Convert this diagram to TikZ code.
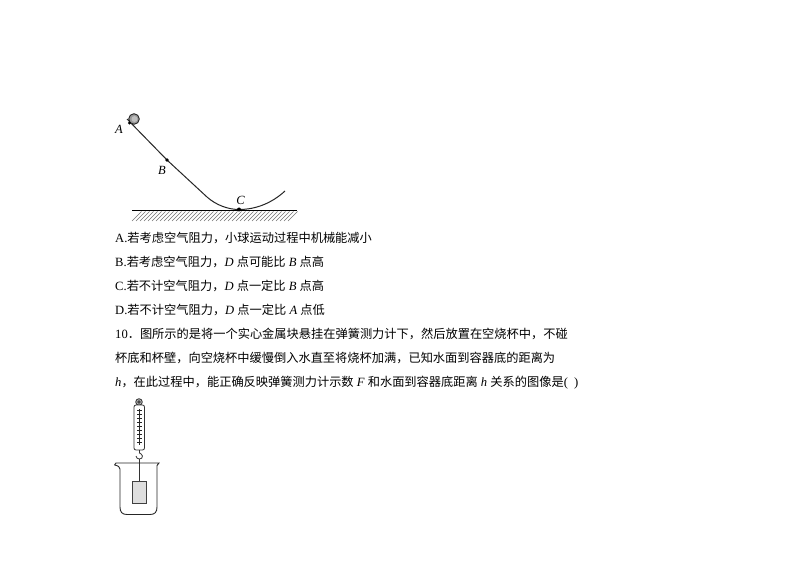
\documentclass[tikz,border=0pt]{standalone}
\usepackage{fontspec}
\setmainfont{Liberation Serif}
\newfontfamily\cjk{Noto Sans CJK SC}[Scale=0.97]
\newcommand{\zh}[1]{{\cjk #1}}
\usetikzlibrary{patterns}
\tikzset{
  line/.style={anchor=base west,inner sep=0pt,font=\fontsize{12.6}{12.6}\selectfont},
  plab/.style={inner sep=0pt,font=\fontsize{12.5}{12.5}\selectfont\itshape},
  trk/.style={draw=black!85,line width=1pt},
  thin line/.style={draw=black!80,line width=0.8pt}
}
\begin{document}
\begin{tikzpicture}[x=1pt,y=-1pt]
\useasboundingbox[fill=white] (0,0) rectangle (794,561);
% incline
\coordinate (a) at (127,119);
\coordinate (b) at (167,160);
\coordinate (bend) at (207,197);
\coordinate (c) at (239,209.5);
\coordinate (e) at (285,191);
\draw[trk] (a) -- (b) -- (bend) .. controls (216,205) and (228,209.5) .. (c) .. controls (256,209.5) and (272,203) .. (e);
\draw[black!85,line width=0.9pt,fill=black!40] (134,119) circle (5.3);
\fill[black!25] (134.5,119) circle (3);
\fill (129.5,123) circle (1.6);
\fill (b) circle (1.9);
\fill (c) circle (2);
\node[plab] (la) at (119,129.5) {A};
\node[plab] (lb) at (162,170) {B};
\node[plab] (lc) at (240.5,200.5) {C};
% ground
\foreach \x in {132,136,...,288}{
  \draw[black!55,line width=0.7pt] (\x,221) -- (\x+9.5,211.5);
}
\draw[black,line width=1pt] (132,211) -- (297,211);
% text
\node[line] (t1) at (115,243) {A.\zh{若考虑空气阻力，小球运动过程中机械能减小}};
\node[line] (t2) at (115,266.5) {B.\zh{若考虑空气阻力，}\textit{D} \zh{点可能比} \textit{B} \zh{点高}};
\node[line] (t3) at (115,290.5) {C.\zh{若不计空气阻力，}\textit{D} \zh{点一定比} \textit{B} \zh{点高}};
\node[line] (t4) at (115,314.5) {D.\zh{若不计空气阻力，}\textit{D} \zh{点一定比} \textit{A} \zh{点低}};
\node[line] (t5) at (115,338.5) {10\zh{．图所示的是将一个实心金属块悬挂在弹簧测力计下，然后放置在空烧杯中，不碰}};
\node[line] (t6) at (115,362.5) {\zh{杯底和杯壁，向空烧杯中缓慢倒入水直至将烧杯加满，已知水面到容器底的距离为}};
\node[line] (t7) at (115,386.5) {\textit{h}\zh{，在此过程中，能正确反映弹簧测力计示数} \textit{F} \zh{和水面到容器底距离} \textit{h} \zh{关系的图像是}(\enspace)};
% spring scale
\draw[thin line,fill=black!30] (139,402) circle (3.3);
\draw[thin line,fill=white] (139,402) circle (1.3);
\draw[thin line,fill=white,rounded corners=2pt] (134,405) rectangle (144.5,450);
\draw[black!85,line width=0.8pt] (139.5,409) -- (139.5,445);
\foreach \y in {410,414,...,444}{
  \draw[black!85,line width=0.7pt] (137,\y) -- (141.5,\y);
}
\draw[thin line] (139,450) -- (139,453);
\draw[thin line] (136,456) .. controls (136,460) and (143,460) .. (142.5,456) .. controls (142,453) and (139,453) .. (139,453);
\draw[thin line] (139,459) -- (139,481);
% block
\draw[black!75,fill=black!13,line width=0.9pt] (132,481) rectangle (146,503);
% beaker
\draw[black!85,line width=0.9pt] (114.5,465) -- (116,463) -- (159,463) -- (157,465.5) -- (157,507) .. controls (157,512) and (155,514.5) .. (150,514.5) -- (127,514.5) .. controls (122,514.5) and (120,512) .. (120,507) -- (120,469) .. controls (120,467) and (118,465.5) .. (114.5,465);
\end{tikzpicture}
\end{document}
